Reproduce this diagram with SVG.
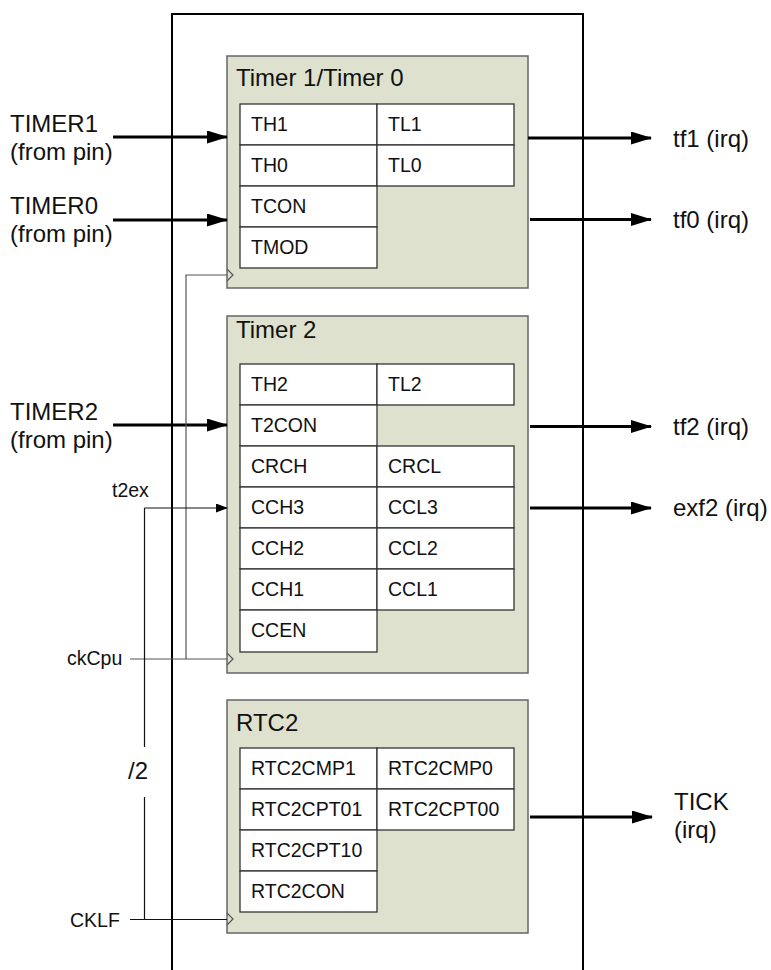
<svg xmlns="http://www.w3.org/2000/svg" width="771" height="970" viewBox="0 0 771 970">
<defs>
<style>
text{font-family:"Liberation Sans",Arial,sans-serif;fill:#111}
.big{font-size:24px}
.sm{font-size:19.5px}
.box{fill:#dde1cd;stroke:#666;stroke-width:1.5}
.cell{fill:#fff;stroke:#333;stroke-width:1.3}
.thick{stroke:#000;stroke-width:3;fill:none}
.thin{stroke:#111;stroke-width:1.2;fill:none}
.clk{stroke:#555;stroke-width:1.2;fill:none}
.outer{stroke:#000;stroke-width:2;fill:none}
</style>
<marker id="ah" markerUnits="userSpaceOnUse" markerWidth="21" markerHeight="13" refX="20" refY="6.5" orient="auto">
<path d="M0,0 L21,6.5 L0,13 z" fill="#000"/>
</marker>
<marker id="ahs" markerUnits="userSpaceOnUse" markerWidth="12" markerHeight="9" refX="11" refY="4.5" orient="auto">
<path d="M0,0 L12,4.5 L0,9 z" fill="#000"/>
</marker>
</defs>
<rect width="771" height="970" fill="#fff"/>
<path class="outer" d="M172,975 V14 H583 V975"/>

<g id="timer10">
<rect class="box" x="227" y="56" width="301" height="232"/>
<text class="big" x="236" y="86">Timer 1/Timer 0</text>
<rect class="cell" x="240" y="104" width="137" height="41"/><text class="sm" x="251" y="131">TH1</text>
<rect class="cell" x="377" y="104" width="137" height="41"/><text class="sm" x="388" y="131">TL1</text>
<rect class="cell" x="240" y="145" width="137" height="41"/><text class="sm" x="251" y="172">TH0</text>
<rect class="cell" x="377" y="145" width="137" height="41"/><text class="sm" x="388" y="172">TL0</text>
<rect class="cell" x="240" y="186" width="137" height="41"/><text class="sm" x="251" y="213">TCON</text>
<rect class="cell" x="240" y="227" width="137" height="41"/><text class="sm" x="251" y="254">TMOD</text>
<polyline class="clk" points="227,269 233,275 227,281"/>
</g>

<g id="timer2">
<rect class="box" x="227" y="316" width="301" height="357"/>
<text class="big" x="236" y="338">Timer 2</text>
<rect class="cell" x="240" y="364" width="137" height="41"/><text class="sm" x="251" y="391">TH2</text>
<rect class="cell" x="377" y="364" width="137" height="41"/><text class="sm" x="388" y="391">TL2</text>
<rect class="cell" x="240" y="405" width="137" height="41"/><text class="sm" x="251" y="432">T2CON</text>
<rect class="cell" x="240" y="446" width="137" height="41"/><text class="sm" x="251" y="473">CRCH</text>
<rect class="cell" x="377" y="446" width="137" height="41"/><text class="sm" x="388" y="473">CRCL</text>
<rect class="cell" x="240" y="487" width="137" height="41"/><text class="sm" x="251" y="514">CCH3</text>
<rect class="cell" x="377" y="487" width="137" height="41"/><text class="sm" x="388" y="514">CCL3</text>
<rect class="cell" x="240" y="528" width="137" height="41"/><text class="sm" x="251" y="555">CCH2</text>
<rect class="cell" x="377" y="528" width="137" height="41"/><text class="sm" x="388" y="555">CCL2</text>
<rect class="cell" x="240" y="569" width="137" height="41"/><text class="sm" x="251" y="596">CCH1</text>
<rect class="cell" x="377" y="569" width="137" height="41"/><text class="sm" x="388" y="596">CCL1</text>
<rect class="cell" x="240" y="610" width="137" height="42"/><text class="sm" x="251" y="637">CCEN</text>
<polyline class="clk" points="227,653 233,659 227,665"/>
</g>

<g id="rtc2">
<rect class="box" x="227" y="700" width="301" height="233"/>
<text class="big" x="236" y="731">RTC2</text>
<rect class="cell" x="240" y="748" width="137" height="41"/><text class="sm" x="251" y="775">RTC2CMP1</text>
<rect class="cell" x="377" y="748" width="137" height="41"/><text class="sm" x="388" y="775">RTC2CMP0</text>
<rect class="cell" x="240" y="789" width="137" height="41"/><text class="sm" x="251" y="816">RTC2CPT01</text>
<rect class="cell" x="377" y="789" width="137" height="41"/><text class="sm" x="388" y="816">RTC2CPT00</text>
<rect class="cell" x="240" y="830" width="137" height="41"/><text class="sm" x="251" y="857">RTC2CPT10</text>
<rect class="cell" x="240" y="871" width="137" height="41"/><text class="sm" x="251" y="898">RTC2CON</text>
<polyline class="clk" points="227,913 233,919 227,925"/>
</g>

<g id="labels">
<text class="big" x="10" y="131.5">TIMER1</text>
<text class="big" x="10" y="159.5">(from pin)</text>
<text class="big" x="10" y="213.5">TIMER0</text>
<text class="big" x="10" y="241.5">(from pin)</text>
<text class="big" x="10" y="419.5">TIMER2</text>
<text class="big" x="10" y="447.5">(from pin)</text>
<text class="sm" x="112" y="497">t2ex</text>
<text class="sm" x="67" y="665">ckCpu</text>
<text class="sm" x="70" y="926.5">CKLF</text>
<text class="big" x="128" y="779">/2</text>
<text class="big" x="673" y="147">tf1 (irq)</text>
<text class="big" x="673" y="228">tf0 (irq)</text>
<text class="big" x="673" y="435">tf2 (irq)</text>
<text class="big" x="673" y="516">exf2 (irq)</text>
<text class="big" x="674" y="810">TICK</text>
<text class="big" x="674" y="838">(irq)</text>
</g>

<g id="connectors">
<line class="thick" x1="113" y1="137" x2="227" y2="137" marker-end="url(#ah)"/>
<line class="thick" x1="113" y1="220" x2="227" y2="220" marker-end="url(#ah)"/>
<line class="thick" x1="113" y1="425" x2="227" y2="425" marker-end="url(#ah)"/>
<line class="thick" x1="528" y1="138" x2="651" y2="138" marker-end="url(#ah)"/>
<line class="thick" x1="530" y1="219.5" x2="651" y2="219.5" marker-end="url(#ah)"/>
<line class="thick" x1="530" y1="426.5" x2="651" y2="426.5" marker-end="url(#ah)"/>
<line class="thick" x1="530" y1="508" x2="651" y2="508" marker-end="url(#ah)"/>
<line class="thick" x1="530" y1="817" x2="652" y2="817" marker-end="url(#ah)"/>
<path class="clk" d="M130,659 H227 M186,659 V275 H227"/>
<path class="thin" d="M130,919.5 H227 M144.5,919.5 V797 M144.5,747 V508"/>
<line class="thin" x1="144.5" y1="508" x2="227" y2="508" marker-end="url(#ahs)"/>
</g>
</svg>
